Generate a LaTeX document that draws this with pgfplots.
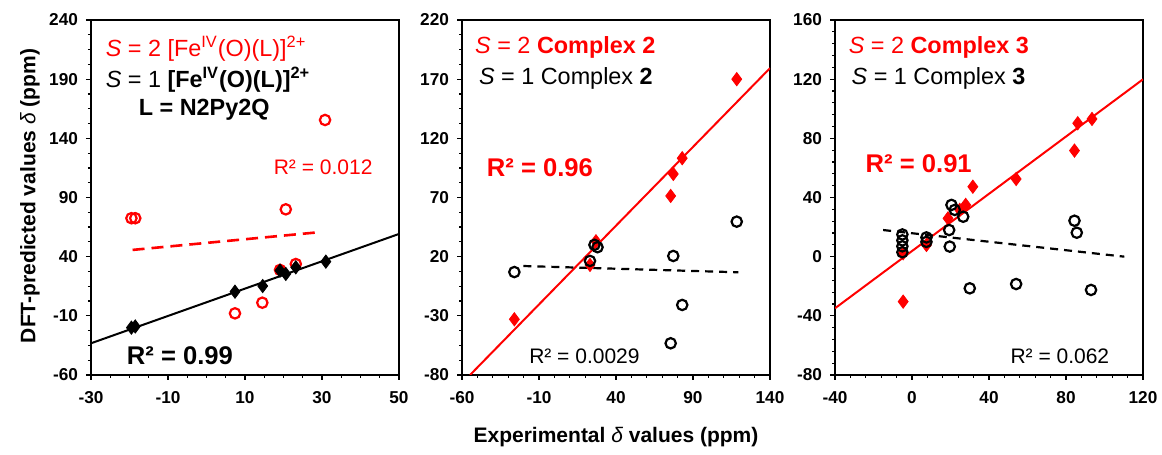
\documentclass[border=0pt]{standalone}
\usepackage{fontspec}
\setmainfont{Liberation Sans}
\usepackage{pgfplots}
\pgfplotsset{compat=1.18}
\definecolor{exred}{HTML}{FF0000}

\newcommand{\annfont}{\fontsize{11.7}{14}\selectfont}
\newcommand{\rbig}{\fontsize{12.8}{15}\selectfont\bfseries}
\newcommand{\rsmall}{\fontsize{10.5}{12}\selectfont}

\pgfplotsset{
  panel/.style={
    scale only axis, width=154pt, height=177.5pt,
    anchor=south west,
    axis line style={line width=0.7pt},
    tick align=outside, xtick pos=left, ytick pos=left,
    major tick length=2.5pt, minor tick length=1.5pt,
    every tick/.style={black, line width=0.6pt},
    tick label style={font=\fontsize{8.6}{10}\selectfont\bfseries},
    xticklabel style={yshift=-2pt},
    yticklabel style={xshift=-0.5pt},
    /pgf/number format/assume math mode=true,
  },
  opencirc/.style={only marks, mark=o, mark size=2.6pt, mark options={line width=1.1pt}},
  fulldiam/.style={only marks, mark=diamond*, mark size=3.3pt},
}

\begin{document}
\begin{tikzpicture}
\path[use as bounding box] (0,0) rectangle (581pt,227.5pt);

% panel 1: N2Py2Q
\begin{axis}[panel, at={(45.5pt,40pt)},
  xmin=-30, xmax=50, ymin=-60, ymax=240,
  xtick={-30,-10,...,50}, ytick={-60,-10,...,240},
  minor x tick num=3, minor y tick num=3]
\addplot[opencirc, exred] coordinates {
  (-19.5,72.5) (-18.5,72.5) (7.4,-7.9) (14.5,1.1) (19.1,28.8) (20.6,80) (23.2,33.8) (30.8,155.5)
};
\addplot[fulldiam, black] coordinates {
  (-19.5,-20) (-18.5,-19) (7.4,10.4) (14.6,15.2) (19.1,28.2) (20.6,25.4) (23.2,31) (31,35.8)
};
\addplot[exred, line width=1.3pt, dash pattern=on 6pt off 3.5pt] coordinates {(-19.2,45.7) (29,60.6)};
\addplot[black, line width=1pt] coordinates {(-30,-33.2) (50,59.2)};
\node[anchor=west, text=exred, font=\annfont] at (axis cs:-28,216) {\textit{S} = 2 [Fe\textsuperscript{IV}(O)(L)]\textsuperscript{2+}};
\node[anchor=west, font=\annfont] at (axis cs:-28,189.4) {\textit{S} = 1 \textbf{[Fe\textsuperscript{IV}(O)(L)]\textsuperscript{2+}}};
\node[font=\annfont\bfseries] at (axis cs:-0.6,164) {L = N2Py2Q};
\node[text=exred, font=\rsmall] at (axis cs:30.3,115.8) {R² = 0.012};
\node[font=\rbig] at (axis cs:-6.9,-44) {R² = 0.99};
\end{axis}

% panel 2: complex 2
\begin{axis}[panel, at={(231pt,40pt)},
  xmin=-60, xmax=140, ymin=-80, ymax=220,
  xtick={-60,-10,...,140}, ytick={-80,-30,...,220},
  minor x tick num=4, minor y tick num=3]
\addplot[fulldiam, exred] coordinates {
  (-26,-32.9) (23.1,13) (27,33) (75.5,71.3) (77.2,89.9) (83,103.2) (118.4,170)
};
\addplot[opencirc, black] coordinates {
  (-26,7) (23.1,16.4) (26,30) (28,28) (77.2,20.6) (83,-20.8) (75.5,-53.2) (118.4,49.6)
};
\addplot[exred, line width=1pt] coordinates {(-54.8,-80) (140,179.3)};
\addplot[black, line width=1.1pt, dash pattern=on 4pt off 3pt] coordinates {(-20.2,12.1) (119.4,6.8)};
\node[anchor=west, text=exred, font=\annfont] at (axis cs:-56,196.4) {\textit{S} = 2 \textbf{Complex 2}};
\node[anchor=west, font=\annfont] at (axis cs:-53.5,171) {\textit{S} = 1 Complex \textbf{2}};
\node[text=exred, font=\rbig] at (axis cs:-9.4,95.4) {R² = 0.96};
\node[font=\rsmall] at (axis cs:19.5,-64.4) {R² = 0.0029};
\end{axis}

% panel 3: complex 3
\begin{axis}[panel, at={(417.5pt,40pt)},
  xmin=-40, xmax=120, ymin=-80, ymax=160,
  xtick={-40,0,...,120}, ytick={-80,-40,...,160},
  minor x tick num=4, minor y tick num=4]
\addplot[fulldiam, exred] coordinates {
  (-4.6,-30.4) (-4.6,2.3) (7.5,7.9) (18.7,25.9) (24.8,31.6) (27.9,35) (31.6,47.3)
  (54.1,52.5) (84.4,71.7) (86.1,90.2) (93.5,93.1)
};
\addplot[opencirc, black] coordinates {
  (-5,15) (-5,11) (-5,7) (-5,3) (7.5,13) (7.5,10) (19.3,18) (19.6,6.8) (20.5,35)
  (22.2,31.6) (26.6,27) (30,-21.4) (54.1,-18.5) (84.4,24.3) (85.6,16.2) (93,-22.5)
};
\addplot[exred, line width=1pt] coordinates {(-40,-34.9) (120,119.9)};
\addplot[black, line width=1.1pt, dash pattern=on 4pt off 3pt] coordinates {(-15,18) (110.3,0)};
\node[anchor=west, text=exred, font=\annfont] at (axis cs:-36.5,141.4) {\textit{S} = 2 \textbf{Complex 3}};
\node[anchor=west, font=\annfont] at (axis cs:-35,120.8) {\textit{S} = 1 Complex \textbf{3}};
\node[text=exred, font=\rbig] at (axis cs:3.5,62.7) {R² = 0.91};
\node[font=\rsmall] at (axis cs:76.8,-67.5) {R² = 0.062};
\end{axis}

\node[rotate=90, font=\fontsize{10.5}{12}\selectfont\bfseries] at (15pt,129.5pt) {DFT-predicted values {\mdseries\itshape δ} (ppm)};
\node[font=\fontsize{10.5}{12}\selectfont\bfseries] at (308pt,9pt) {Experimental {\mdseries\itshape δ} values (ppm)};
\end{tikzpicture}
\end{document}
